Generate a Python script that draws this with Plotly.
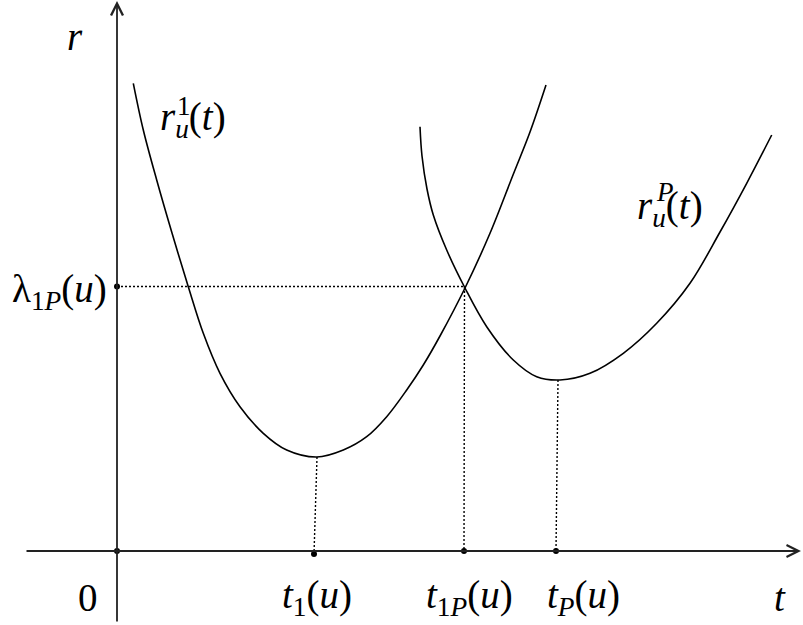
import plotly.graph_objects as go

# ---- data (t, r units; origin at axis crossing) ----
curve1_t = [0.163, 0.263, 0.397, 0.55, 0.713, 0.863, 1.03, 1.23, 1.463, 1.697, 1.997, 2.263, 2.497,
            2.697, 2.897, 3.063, 3.23, 3.48, 3.73, 3.96, 4.13, 4.29]
curve1_r = [4.677, 4.21, 3.71, 3.18, 2.643, 2.177, 1.777, 1.443, 1.177, 1.01, 0.94, 1.01, 1.143,
            1.343, 1.61, 1.86, 2.15, 2.63, 3.177, 3.76, 4.19, 4.66]

curveP_t = [3.03, 3.05, 3.10, 3.163, 3.297, 3.48, 3.697, 3.963, 4.197, 4.43, 4.73, 5.063, 5.397, 5.73,
            6.03, 6.297, 6.547]
curveP_r = [4.243, 3.95, 3.62, 3.36, 3.01, 2.63, 2.243, 1.91, 1.743, 1.71, 1.777, 1.977, 2.277, 2.677,
            3.19, 3.677, 4.16]

t1_top = (2.00, 0.94)      # minimum of r_u^1
t1P_top = (3.475, 2.64)    # intersection
tP_top = (4.41, 1.71)      # minimum of r_u^P
t1_val, t1P_val, tP_val = 1.97, 3.47, 4.39
lambda_val = 2.645
dot_t = [0.0, 0.0, t1_val, t1P_val, tP_val]
dot_r = [0.0, lambda_val, -0.03, 0.0, 0.0]

x_range = [-1.17, 6.86]
y_range = [-0.74, 5.51]

FONT = "'Liberation Serif', 'DejaVu Serif', serif"
BIG = 39
SMALL = 27
INK = "black"

fig = go.Figure()

# curves
for tt, rr in [(curve1_t, curve1_r), (curveP_t, curveP_r)]:
    fig.add_trace(go.Scatter(x=tt, y=rr, mode="lines",
                             line=dict(color=INK, width=1.6, shape="spline", smoothing=1.0),
                             hoverinfo="skip", showlegend=False))

# dotted guides
dash = "2px,2px"
fig.add_trace(go.Scatter(x=[0, t1P_top[0]], y=[lambda_val, lambda_val], mode="lines",
                         line=dict(color=INK, width=1.4, dash=dash), showlegend=False, hoverinfo="skip"))
for (tx, ty), tb, rb in [(t1_top, t1_val, -0.03), (t1P_top, t1P_val, 0.0), (tP_top, tP_val, 0.0)]:
    fig.add_trace(go.Scatter(x=[tx, tb], y=[ty, rb], mode="lines",
                             line=dict(color=INK, width=1.4, dash=dash), showlegend=False, hoverinfo="skip"))

# dots
fig.add_trace(go.Scatter(x=dot_t, y=dot_r, mode="markers", marker=dict(color=INK, size=6),
                         showlegend=False, hoverinfo="skip"))

annotations = []
# axes with arrows
annotations.append(dict(x=6.84, y=0, ax=-0.92, ay=0, xref="x", yref="y", axref="x", ayref="y",
                        text="", showarrow=True, arrowhead=5, arrowsize=1.3, arrowwidth=1.8, arrowcolor="#222"))
annotations.append(dict(x=0, y=5.50, ax=0, ay=-0.72, xref="x", yref="y", axref="x", ayref="y",
                        text="", showarrow=True, arrowhead=5, arrowsize=1.3, arrowwidth=1.8, arrowcolor="#222"))

def lab(text, x, y, size=BIG, xanchor="center", yanchor="middle"):
    annotations.append(dict(x=x, y=y, xref="x", yref="y", text=text, showarrow=False,
                            font=dict(family=FONT, size=size, color=INK), xanchor=xanchor, yanchor=yanchor))

# axis labels
lab("<i>r</i>", -0.42, 5.15)
lab("<i>t</i>", 6.63, -0.46)
lab("0", -0.29, -0.46)
lab("<i>t</i><sub>1</sub>(<i>u</i>)", t1_val + 0.03, -0.46)
lab("<i>t</i><sub>1<i>P</i></sub>(<i>u</i>)", t1P_val + 0.05, -0.46)
lab("<i>t</i><sub><i>P</i></sub>(<i>u</i>)", tP_val + 0.27, -0.46)
lab("λ<sub>1<i>P</i></sub>(<i>u</i>)", -0.08, lambda_val - 0.05, xanchor="right")

# curve labels
lab("<i>r</i><sub><i>u</i></sub>(<i>t</i>)", 0.41, 4.32, xanchor="left")
lab("1", 0.67, 4.45, size=SMALL, xanchor="center")
lab("<i>r</i><sub><i>u</i></sub>(<i>t</i>)", 5.18, 3.43, xanchor="left")
lab("<i>P</i>", 5.48, 3.59, size=SMALL, xanchor="center")

fig.update_layout(
    width=803, height=625, margin=dict(l=0, r=0, t=0, b=0),
    font=dict(family=FONT),
    paper_bgcolor="white", plot_bgcolor="white",
    xaxis=dict(range=x_range, visible=False, fixedrange=True),
    yaxis=dict(range=y_range, visible=False, fixedrange=True),
    annotations=annotations, showlegend=False,
)

fig.write_html("out.html", config={"displayModeBar": False},
               post_script="document.body.style.margin='0';")
